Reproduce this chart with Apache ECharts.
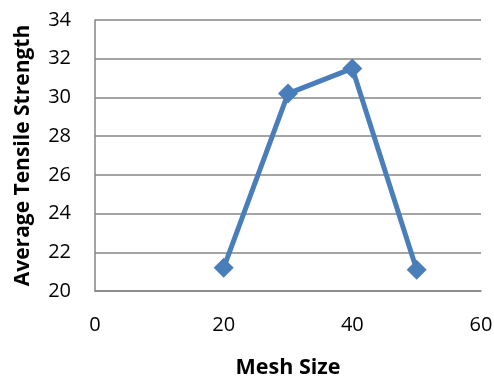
<!DOCTYPE html>
<html>
<head>
<meta charset="utf-8">
<script src="https://cdn.jsdelivr.net/npm/echarts@6/dist/echarts.min.js"></script>
<style>
html, body { margin: 0; padding: 0; background: #fff; }
#chart { width: 494px; height: 378px; }
</style>
</head>
<body>
<div id="chart"></div>
<script>
// mesh size vs average tensile strength
var meshSize = [20, 30, 40, 50];
var tensileStrength = [21.2, 30.2, 31.5, 21.1];

var points = meshSize.map(function (m, i) { return [m, tensileStrength[i]]; });

var font = 'Open Sans, Liberation Sans, sans-serif';

var option = {
    backgroundColor: '#fff',
    animation: false,
    grid: {
        left: 95,
        right: 13,
        top: 20,
        bottom: 87,
        outerBoundsMode: 'none'
    },
    xAxis: {
        type: 'value',
        min: 0,
        max: 60,
        interval: 20,
        name: 'Mesh Size',
        nameLocation: 'middle',
        nameGap: 66,
        nameTextStyle: { fontFamily: font, fontWeight: 'bold', fontSize: 21.5, color: '#000' },
        axisLine: { show: true, lineStyle: { color: '#868686', width: 1.5 } },
        axisTick: { show: false },
        splitLine: { show: false },
        axisLabel: { fontFamily: font, fontSize: 20, color: '#000', margin: 24 }
    },
    yAxis: {
        type: 'value',
        min: 20,
        max: 34,
        interval: 2,
        name: 'Average Tensile Strength',
        nameLocation: 'middle',
        nameGap: 61,
        nameTextStyle: { fontFamily: font, fontWeight: 'bold', fontSize: 21, color: '#000' },
        axisLine: { show: true, lineStyle: { color: '#868686', width: 1.5 } },
        axisTick: { show: false },
        splitLine: { show: true, lineStyle: { color: '#868686', width: 1.5 } },
        axisLabel: { fontFamily: font, fontSize: 20, color: '#000', margin: 24 }
    },
    series: [{
        type: 'line',
        data: points,
        symbol: 'diamond',
        symbolSize: 20,
        lineStyle: { color: '#4a7ebb', width: 5 },
        itemStyle: { color: '#4a7ebb' }
    }]
};

var chart = echarts.init(document.getElementById('chart'));
chart.setOption(option);
</script>
</body>
</html>
